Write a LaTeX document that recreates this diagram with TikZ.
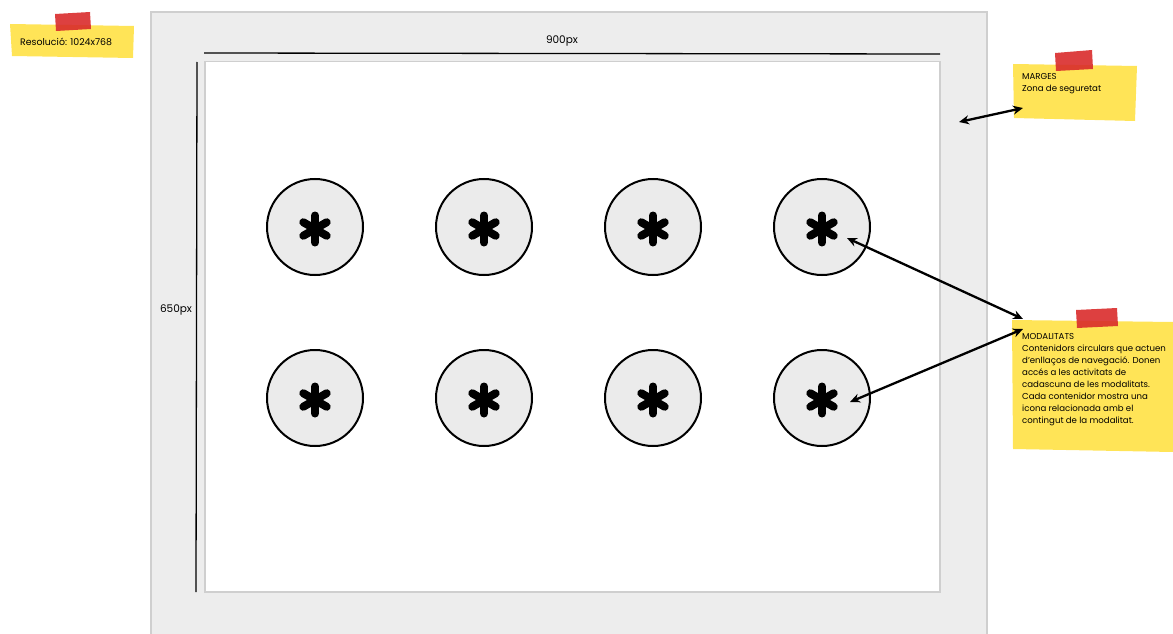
\documentclass[tikz,border=0pt]{standalone}
\usepackage{fontspec}
\setmainfont{Poppins}
\usetikzlibrary{arrows.meta}
\definecolor{frame}{HTML}{EDEDED}
\definecolor{frameline}{HTML}{CFCFCF}
\definecolor{noteyellow}{HTML}{FFE457}
\definecolor{tapered}{HTML}{D92B2B}
\definecolor{circfill}{HTML}{EBEBEB}
\tikzset{
  modcircle/.style={circle,draw=black,line width=2pt,fill=circfill,minimum size=96pt,inner sep=0pt},
  astline/.style={line width=8pt,line cap=round},
  notetext/.style={font=\fontsize{8.6}{12}\selectfont,align=left,anchor=north west,inner sep=0pt,text=black},
  callout/.style={line width=2.3pt,{Stealth[length=10pt,width=9pt]}-{Stealth[length=10pt,width=9pt]}},
  dimline/.style={line width=1.3pt,black}
}
\begin{document}
\begin{tikzpicture}[x=1pt,y=-1pt]
\useasboundingbox (0,0) rectangle (1173,634);
% outer frame
\fill[frame] (151,12) rectangle (987,640);
\draw[frameline,line width=1.5pt] (151,640) -- (151,12) -- (987,12) -- (987,640);
% inner screen
\node[draw=frameline,line width=1.5pt,fill=white,minimum width=735pt,minimum height=530pt,inner sep=0pt,anchor=north west] (screen) at (204,61) {};
% dimension lines
\coordinate (hA) at (204,53);
\coordinate (hB) at (940,54);
\draw[dimline] (hA) -- (hB);
\node[font=\fontsize{10.5}{11}\selectfont] (w) at (562,41) {900px};
\coordinate (vA) at (197,62);
\coordinate (vB) at (196,592);
\draw[dimline] (vA) -- (vB);
\node[font=\fontsize{10.5}{11}\selectfont] (h) at (176,310) {650px};
% circles
\foreach \i/\x in {1/315,2/484,3/653,4/822}{
  \foreach \j/\y in {1/227,2/398}{
    \node[modcircle] (c\i\j) at (\x,\y) {};
    \begin{scope}[shift={(\x,\y+2)}]
      \draw[astline] (0,-13.5) -- (0,13.5);
      \draw[astline] (-11.7,-6.75) -- (11.7,6.75);
      \draw[astline] (-11.7,6.75) -- (11.7,-6.75);
    \end{scope}
  }
}
% note: resolution
\fill[noteyellow] (10,24) -- (134,26) -- (133,58) -- (12,56) -- cycle;
\fill[tapered,opacity=0.9] (55,14) -- (90,12) -- (91,29) -- (56,31) -- cycle;
\node[notetext,anchor=west,font=\fontsize{9.4}{10}\selectfont] (res) at (20,42) {Resolució: 1024x768};
% note: marges
\fill[noteyellow] (1013,64) -- (1137,66) -- (1135,121) -- (1014,118) -- cycle;
\fill[tapered,opacity=0.9] (1055,53) -- (1092,50) -- (1093,69) -- (1056,71) -- cycle;
\node[notetext] (marges) at (1022,73) {MARGES\\Zona de seguretat};
% note: modalitats
\fill[noteyellow] (1012,320) -- (1173,322) -- (1173,452) -- (1013,449) -- cycle;
\fill[tapered,opacity=0.9] (1076,310) -- (1117,308) -- (1118,326) -- (1077,328) -- cycle;
\node[notetext] (modal) at (1022,333) {MODALITATS\\Contenidors circulars que actuen\\d'enllaços de navegació. Donen\\accés a les activitats de\\cadascuna de les modalitats.\\Cada contenidor mostra una\\icona relacionada amb el\\contingut de la modalitat.};
% callouts
\coordinate (mA) at (959,122);
\coordinate (mB) at (1023,108);
\draw[callout] (mA) -- (mB);
\coordinate (m1) at (1023,319);
\coordinate (m2) at (1023,329);
\draw[callout] (847,238) -- (m1);
\draw[callout] (850,402) -- (m2);
\end{tikzpicture}
\end{document}
